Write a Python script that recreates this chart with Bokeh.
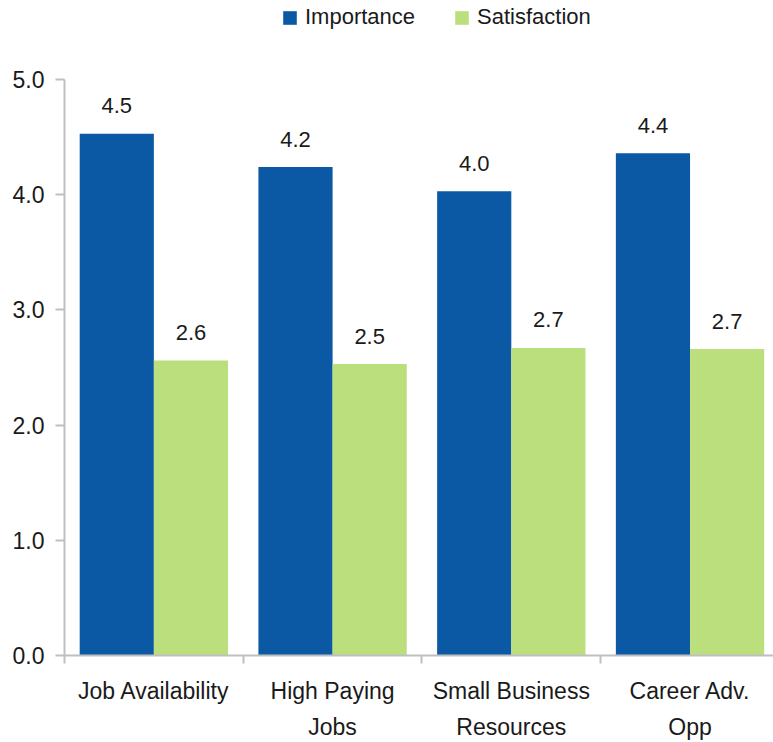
from bokeh.plotting import figure
from bokeh.models import (ColumnDataSource, FixedTicker, Range1d, Legend, LegendItem)
from bokeh.core.properties import value
from bokeh.embed import file_html
from bokeh.resources import INLINE

categories = ["Job Availability", "High Paying\nJobs", "Small Business\nResources", "Career Adv.\nOpp"]
importance = [4.53, 4.24, 4.03, 4.36]
satisfaction = [2.56, 2.53, 2.67, 2.66]
y_ticks = [0.0, 1.0, 2.0, 3.0, 4.0, 5.0]

FONT = "Liberation Sans"
BLUE = "#0B58A5"
GREEN = "#BCDF7E"
TXT = "#1A1A1A"
AXIS = "#BFBFBF"

n = len(categories)
centers = [i + 0.5 for i in range(n)]
off = 0.2075
bw = 0.415

src_i = ColumnDataSource(dict(x=[c - off for c in centers], top=importance,
                              lab=[f"{v:.1f}" for v in importance]))
src_s = ColumnDataSource(dict(x=[c + off for c in centers], top=satisfaction,
                              lab=[f"{v:.1f}" for v in satisfaction]))

# frame spans the full height above the x axis; the y axis is bounded to 0..5
y_max = 5 * 655 / 576
p = figure(width=773, height=742, output_backend="svg", toolbar_location=None,
           x_range=Range1d(0, 3.967), y_range=Range1d(0, y_max),
           min_border_left=64, min_border_right=0, min_border_top=0, min_border_bottom=87,
           outline_line_color=None)
p.xgrid.visible = False
p.ygrid.visible = False

r1 = p.vbar(x="x", top="top", width=bw, source=src_i, color=BLUE, line_color=None)
r2 = p.vbar(x="x", top="top", width=bw, source=src_s, color=GREEN, line_color=None)

for src in (src_i, src_s):
    p.text(x="x", y="top", text="lab", source=src, text_align="center",
           text_baseline="alphabetic", y_offset=-28,
           text_font=value(FONT), text_font_size="22px", text_color=TXT)

# y axis
p.yaxis.bounds = (0, 5)
p.yaxis.ticker = FixedTicker(ticks=y_ticks)
p.yaxis.major_label_overrides = {t: f"{t:.1f}" for t in y_ticks}
p.yaxis.major_label_text_font = FONT
p.yaxis.major_label_text_font_size = "23px"
p.yaxis.major_label_text_color = TXT
p.yaxis.major_label_standoff = 11
p.yaxis.axis_line_color = AXIS
p.yaxis.axis_line_width = 2
p.yaxis.major_tick_line_color = AXIS
p.yaxis.major_tick_line_width = 2
p.yaxis.major_tick_out = 9
p.yaxis.major_tick_in = 0
p.yaxis.minor_tick_line_color = None

# x axis
p.xaxis.ticker = FixedTicker(ticks=centers, minor_ticks=[0, 1, 2, 3, 4])
p.xaxis.major_label_overrides = {c: lab for c, lab in zip(centers, categories)}
p.xaxis.major_label_text_font = FONT
p.xaxis.major_label_text_font_size = "23px"
p.xaxis.major_label_text_line_height = 1.4
p.xaxis.major_label_text_color = TXT
p.xaxis.major_label_standoff = 14
p.xaxis.axis_line_color = AXIS
p.xaxis.axis_line_width = 2
p.xaxis.major_tick_line_color = None
p.xaxis.minor_tick_line_color = AXIS
p.xaxis.minor_tick_line_width = 2
p.xaxis.minor_tick_out = 8
p.xaxis.minor_tick_in = 0

legend = Legend(items=[LegendItem(label="Importance", renderers=[r1]),
                       LegendItem(label="Satisfaction", renderers=[r2])],
                orientation="horizontal", location=(217, 625),
                label_text_font=FONT, label_text_font_size="22px", label_text_color=TXT,
                glyph_width=17, glyph_height=17, label_standoff=7, spacing=38,
                padding=0, margin=0, border_line_color=None, background_fill_alpha=0)
p.add_layout(legend, "center")

open("out.html", "w").write(file_html(p, INLINE))
